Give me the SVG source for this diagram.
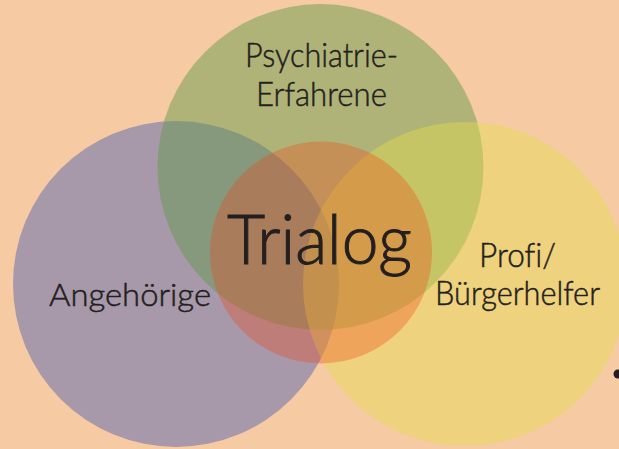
<svg xmlns="http://www.w3.org/2000/svg" width="619" height="449" viewBox="0 0 619 449">
  <style>
    .lbl { font-family: Lato, "Open Sans", "Liberation Sans", sans-serif; font-weight: 300; font-variant-ligatures: none; fill: #231F20; stroke: #231F20; stroke-width: 0.5; }
    .big { stroke-width: 1; }
  </style>
  <rect x="0" y="0" width="619" height="449" fill="#F6CAA2"/>
  <g id="angehoerige">
    <circle cx="176" cy="284" r="163" fill="#A899AA"/>
    <text class="lbl" x="49" y="306" font-size="32" textLength="162" lengthAdjust="spacingAndGlyphs">Angehörige</text>
  </g>
  <g id="psychiatrie-erfahrene">
    <circle cx="320.5" cy="167" r="163" fill="#619949" fill-opacity="0.47"/>
    <text class="lbl" x="245" y="67" font-size="34" textLength="153" lengthAdjust="spacingAndGlyphs">Psychiatrie-</text>
    <text class="lbl" x="256" y="106" font-size="34" textLength="131" lengthAdjust="spacingAndGlyphs">Erfahrene</text>
  </g>
  <g id="profi-buergerhelfer">
    <circle cx="465" cy="284" r="162" fill="#E5DD4C" fill-opacity="0.42"/>
    <text class="lbl" x="479" y="267" font-size="33" textLength="77" lengthAdjust="spacingAndGlyphs">Profi/</text>
    <text class="lbl" x="435" y="305" font-size="33" textLength="165" lengthAdjust="spacingAndGlyphs">Bürgerhelfer</text>
  </g>
  <g id="trialog">
    <circle cx="321" cy="252.5" r="111" fill="#F04719" fill-opacity="0.33"/>
    <text class="lbl big" x="227" y="264" font-size="68" textLength="185" lengthAdjust="spacingAndGlyphs">Trialog</text>
  </g>
  <circle cx="618" cy="374" r="4.5" fill="#231F20"/>
</svg>
